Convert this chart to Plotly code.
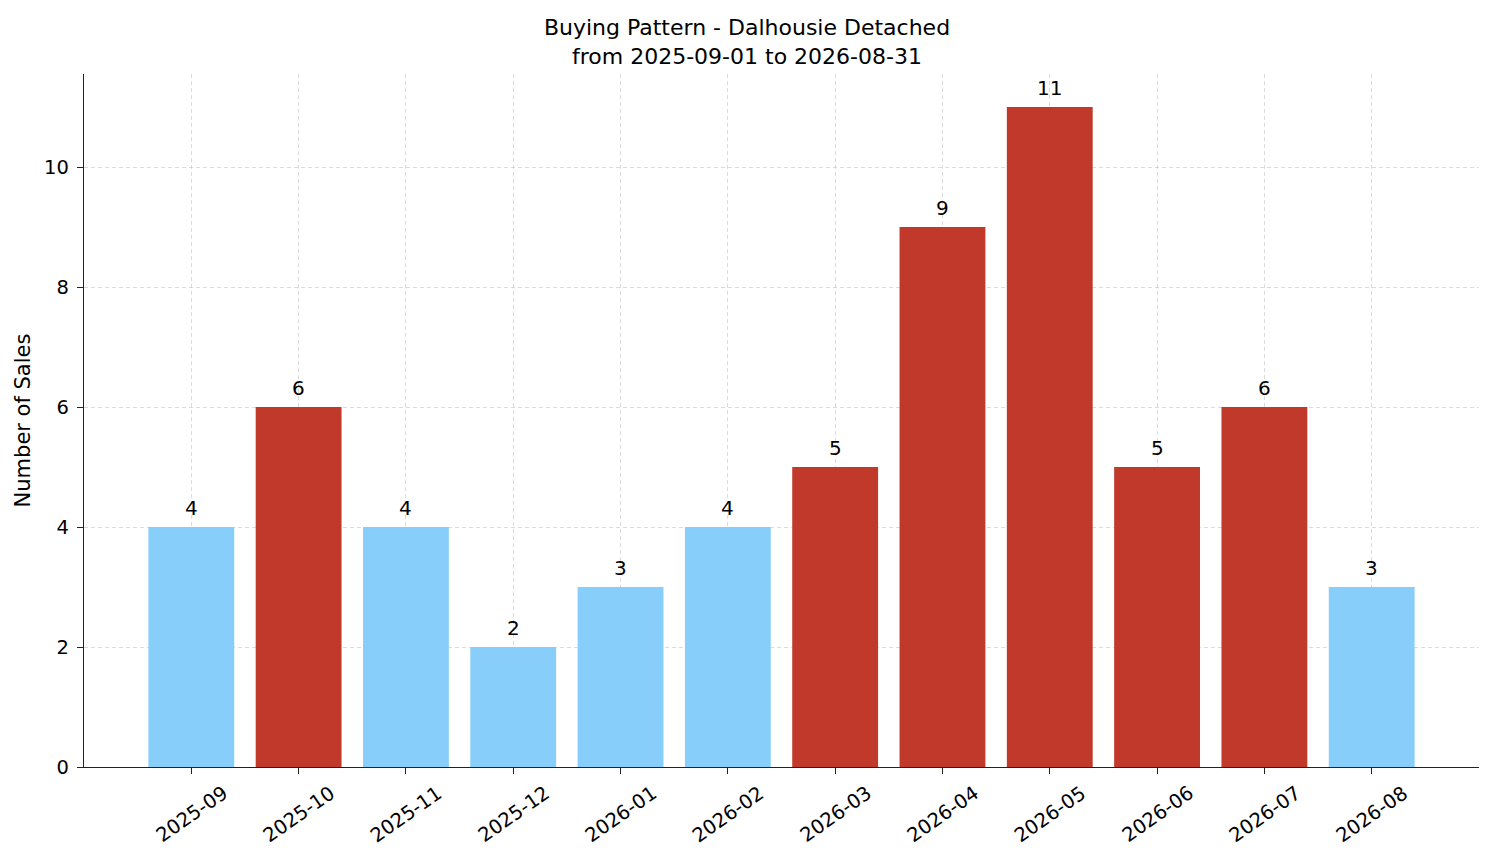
import plotly.graph_objects as go

months = ["2025-09", "2025-10", "2025-11", "2025-12", "2026-01", "2026-02",
          "2026-03", "2026-04", "2026-05", "2026-06", "2026-07", "2026-08"]
sales = [4, 6, 4, 2, 3, 4, 5, 9, 11, 5, 6, 3]
# months that are "hot" (drawn red) vs the rest (light blue)
hot = [False, True, False, False, False, False, True, True, True, True, True, False]

blue = "#87CEFA"
red = "#C0392B"
colors = [red if h else blue for h in hot]
font = "DejaVu Sans"

fig = go.Figure()
fig.add_trace(go.Bar(x=months, y=sales, marker_color=colors, width=0.8,
                     marker_line_width=0, hoverinfo="x+y"))

# value labels above the bars
for m, s in zip(months, sales):
    fig.add_annotation(x=m, y=s, text=str(s), showarrow=False, yanchor="bottom",
                       yshift=5, font=dict(family=font, size=20, color="black"))

# rotated month labels, centred under each tick like matplotlib
for m in months:
    fig.add_annotation(x=m, y=0, xref="x", yref="paper", text=m, showarrow=False,
                       textangle=-35, xanchor="center", yanchor="middle",
                       yshift=-47, font=dict(family=font, size=19.5, color="black"))

# page has an 8px body margin, so the figure is a bit smaller than the window
fig.update_layout(
    width=1478, height=847,
    paper_bgcolor="white", plot_bgcolor="white",
    margin=dict(l=76, r=7, t=66, b=88),
    showlegend=False,
    title=dict(text="Buying Pattern - Dalhousie Detached<br>from 2025-09-01 to 2026-08-31",
               x=0.5, xref="container", xanchor="center", y=0.968, yanchor="top",
               font=dict(family=font, size=22, color="black")),
    font=dict(family=font, size=19.5, color="black"),
)
grid = dict(showgrid=True, gridcolor="rgba(175,175,175,0.45)", gridwidth=0.8,
            griddash="4px,3px", layer="above traces", zeroline=False)
fig.update_xaxes(type="category", range=[-1, 12], showticklabels=False,
                 ticks="outside", ticklen=6, tickwidth=1.3, tickcolor="#222",
                 showline=True, linecolor="#222", linewidth=1.4, **grid)
fig.update_yaxes(range=[0, 11.55], tickvals=[0, 2, 4, 6, 8, 10],
                 ticks="outside", ticklen=6, tickwidth=1.3, tickcolor="#222",
                 ticklabelstandoff=4,
                 showline=True, linecolor="#222", linewidth=1.4, **grid,
                 title=dict(text="Number of Sales", standoff=7,
                            font=dict(family=font, size=21)),
                 automargin=False)

fig.write_html("out.html")
